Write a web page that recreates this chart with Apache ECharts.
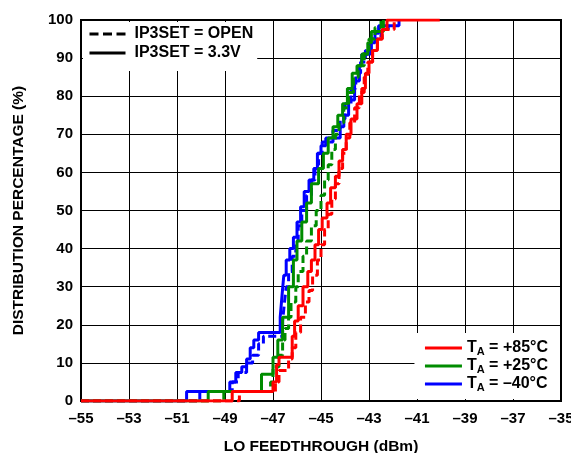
<!DOCTYPE html>
<html><head><meta charset="utf-8">
<script src="https://cdn.jsdelivr.net/npm/echarts@6/dist/echarts.min.js"></script>
<style>html,body{margin:0;padding:0;background:#fff}#c{width:571px;height:453px}</style>
</head><body><div id="c"></div>
<script>
// LO feedthrough (dBm) at each CDF step, and cumulative distribution (%)
const blue33X = [-55,-50.6,-48.8,-48.55,-48.3,-48.1,-47.95,-47.8,-47.6,-46.7,-46.62,-46.55,-46.45,-46.3,-46.15,-46.0,-45.85,-45.7,-45.5,-45.3,-45.15,-45.0,-44.8,-44.2,-44.05,-43.85,-43.6,-43.4,-43.3,-42.95,-42.75,-42.6,-41.75];
const blue33Y = [0,2.5,5,7.5,9,11,14,16,18,22,28,33,37,40,43,47,51,55,58,61,65,67,69,72,75,79,84,88,91,94,96.5,98.5,100];
const blueOpX = [-55,-50.05,-48.7,-48.45,-48.1,-47.85,-47.6,-47.4,-46.6,-46.52,-46.45,-46.35,-46.2,-46.05,-45.95,-45.8,-45.6,-45.4,-45.25,-45.1,-44.95,-44.5,-44.2,-44.0,-43.75,-43.55,-43.35,-43.15,-42.9,-42.5,-42.2];
const blueOpY = [0,2.5,5,7.5,10,12,15,17,21,26,30,34,38,42,46,50,54,58,62,65,68,71,74,78,82,86,89,92,95,97.5,100];
const green33X = [-55,-49.7,-47.48,-47.0,-46.8,-46.6,-46.35,-46.15,-46.0,-45.8,-45.6,-45.4,-45.1,-44.9,-44.7,-44.5,-44.3,-44.1,-43.9,-43.7,-43.5,-43.3,-43.05,-42.9,-42.4];
const green33Y = [0,2.5,7,11.5,16,22,30,37,42,47,52,57,61,65,69,72,75,78,82,86,88,91,94,97,100];
const greenOpX = [-55,-49.05,-47.1,-47.0,-46.75,-46.6,-46.5,-46.35,-46.25,-46.05,-45.95,-45.75,-45.6,-45.4,-45.2,-45.0,-44.85,-44.7,-44.55,-44.4,-44.25,-44.05,-43.85,-43.65,-43.45,-43.2,-43.0,-42.75,-42.5];
const greenOpY = [0,2.5,5,9,12,16,19,22,26,30,34,38,42,46,50,54,58,62,66,70,73,77,81,85,88,92,95,98,100];
const red33X = [-55,-48.7,-47.0,-46.85,-46.75,-46.2,-46.1,-45.95,-45.75,-45.55,-45.4,-45.25,-45.1,-44.95,-44.75,-44.6,-44.4,-44.25,-44.1,-43.95,-43.75,-43.5,-43.3,-43.15,-43.0,-42.85,-42.65,-42.45,-42.25,-40.05];
const red33Y = [0,2.5,5,9.5,11.5,17,21,25,30,34,37,41,45,48,52,56,59,63,66,70,74,78,82,86,89,92,95,97.5,100,100];
const redOpX = [-55,-48.4,-46.9,-46.75,-46.35,-46.2,-46.05,-45.85,-45.65,-45.5,-45.35,-45.15,-45.0,-44.85,-44.7,-44.55,-44.4,-44.25,-44.1,-43.95,-43.8,-43.6,-43.4,-43.2,-43.05,-42.85,-42.65,-42.45,-41.95];
const redOpY = [0,2.5,5,8,11,14,18,22,26,29,33,37,41,45,49,53,57,61,65,69,73,77,81,85,89,92,95,97.5,100];

const tempNames = ['+85', '+25', '\u201340'];
const modeNames = ['IP3SET = OPEN', 'IP3SET = 3.3V'];
const colors = {red: '#ff0000', green: '#008c00', blue: '#0000ff'};

const zip = (xs, ys) => xs.map((x, i) => [x, ys[i]]);
function curve(name, color, xs, ys, dash) {
  return {
    name: name, type: 'line', step: 'end', symbol: 'none', silent: true,
    data: zip(xs, ys),
    lineStyle: {color: color, width: 3, type: dash || 'solid', cap: 'butt'},
    itemStyle: {color: color}
  };
}
const font = '"Liberation Sans", Arial, sans-serif';

const chart = echarts.init(document.getElementById('c'), null, {renderer: 'canvas'});
chart.setOption({
  animation: false,
  backgroundColor: '#fff',
  grid: {left: 81, right: 10, top: 20, bottom: 52, show: true, borderColor: '#000', borderWidth: 2,
    containLabel: false, outerBoundsMode: 'none'},
  xAxis: {
    type: 'value', min: -55, max: -35, interval: 2,
    name: 'LO FEEDTHROUGH (dBm)', nameLocation: 'middle', nameGap: 37.5,
    nameTextStyle: {fontFamily: font, fontWeight: 'bold', fontSize: 15.5, color: '#000'},
    axisLine: {show: false}, axisTick: {show: false},
    axisLabel: {fontFamily: font, fontWeight: 'bold', fontSize: 15, color: '#000', margin: 10,
      formatter: v => v < 0 ? '\u2013' + (-v) : String(v)},
    splitLine: {show: true, lineStyle: {color: '#000', width: 1}}
  },
  yAxis: {
    type: 'value', min: 0, max: 100, interval: 10,
    name: 'DISTRIBUTION PERCENTAGE (%)', nameLocation: 'middle', nameGap: 54, nameRotate: 90,
    nameTextStyle: {fontFamily: font, fontWeight: 'bold', fontSize: 15.5, color: '#000'},
    axisLine: {show: false}, axisTick: {show: false},
    axisLabel: {fontFamily: font, fontWeight: 'bold', fontSize: 15, color: '#000', margin: 8},
    splitLine: {show: true, lineStyle: {color: '#000', width: 1}}
  },
  legend: [
    {
      data: modeNames, orient: 'vertical', left: 83, top: 22,
      backgroundColor: '#fff', padding: [4, 4, 10, 5], itemGap: 3,
      itemWidth: 36, itemHeight: 14, selectedMode: false,
      itemStyle: {opacity: 0}, lineStyle: {width: 3},
      textStyle: {fontFamily: font, fontWeight: 'bold', fontSize: 16, color: '#000', padding: [0, 0, 0, 4], lineHeight: 16}
    },
    {
      data: tempNames, orient: 'vertical', right: 11, bottom: 54,
      backgroundColor: '#fff', padding: [6, 12, 6, 9], itemGap: 0,
      itemWidth: 37, itemHeight: 14, selectedMode: false,
      itemStyle: {opacity: 0}, lineStyle: {width: 3},
      formatter: n => '{t|T}{s|A}{t| = ' + n + '\u00b0C}',
      textStyle: {fontFamily: font, fontWeight: 'bold', fontSize: 16, color: '#000',
        rich: {
          t: {fontFamily: font, fontWeight: 'bold', fontSize: 16, lineHeight: 16, color: '#000'},
          s: {fontFamily: font, fontWeight: 'bold', fontSize: 11, lineHeight: 11, padding: [7, 0, 0, 0], color: '#000'}
        }}
    }
  ],
  series: [
    curve(modeNames[0], '#000', [], [], [9, 4.5]),
    curve(modeNames[1], '#000', [], [], null),
    curve(tempNames[2], colors.blue, blue33X, blue33Y, null),
    curve(tempNames[2], colors.blue, blueOpX, blueOpY, [8, 4]),
    curve(tempNames[1], colors.green, green33X, green33Y, null),
    curve(tempNames[1], colors.green, greenOpX, greenOpY, [8, 4]),
    curve(tempNames[0], colors.red, red33X, red33Y, null),
    curve(tempNames[0], colors.red, redOpX, redOpY, [8, 4])
  ]
});
</script></body></html>
